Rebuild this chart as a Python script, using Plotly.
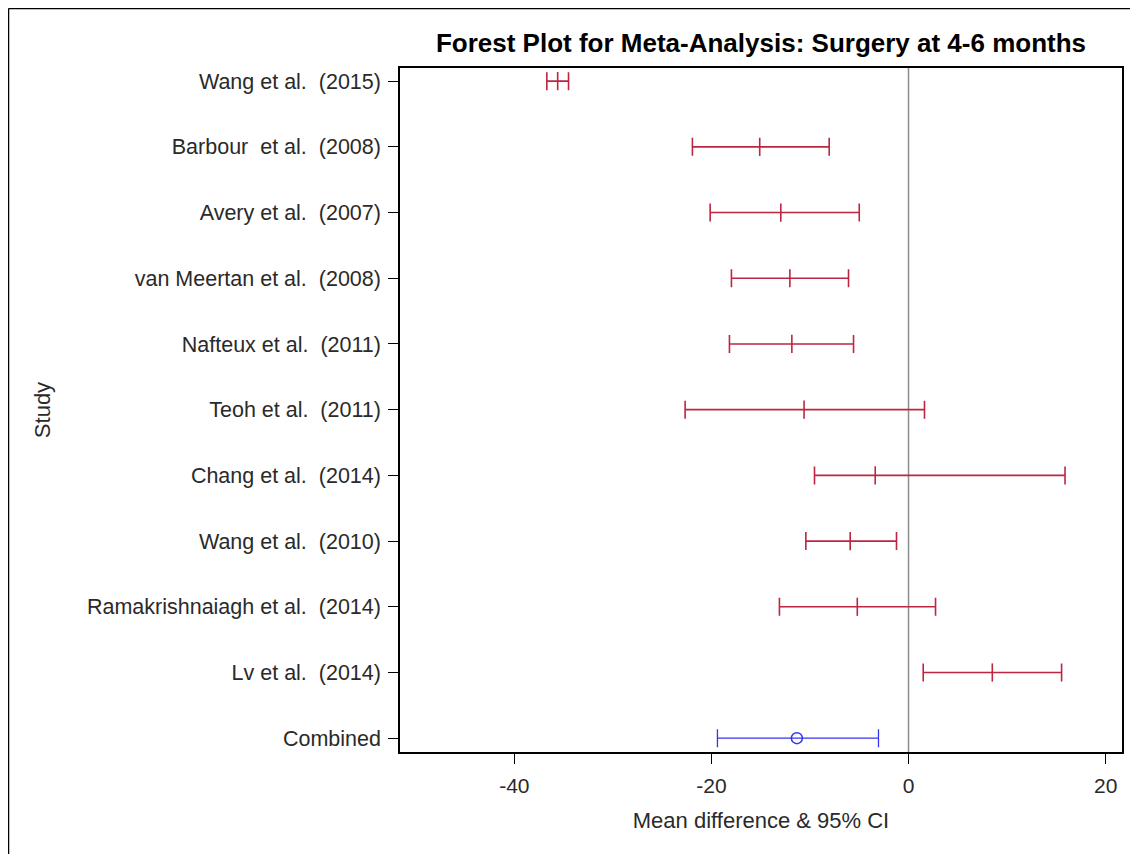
import plotly.graph_objects as go

studies = [
    "Wang et al.\u00a0\u00a0(2015)",
    "Barbour\u00a0\u00a0et al.\u00a0\u00a0(2008)",
    "Avery et al.\u00a0\u00a0(2007)",
    "van Meertan et al.\u00a0\u00a0(2008)",
    "Nafteux et al.\u00a0\u00a0(2011)",
    "Teoh et al.\u00a0\u00a0(2011)",
    "Chang et al.\u00a0\u00a0(2014)",
    "Wang et al.\u00a0\u00a0(2010)",
    "Ramakrishnaiagh et al.\u00a0\u00a0(2014)",
    "Lv et al.\u00a0\u00a0(2014)",
]
means = [-35.6, -15.1, -12.96, -12.04, -11.84, -10.6, -3.38, -5.92, -5.2, 8.5]
lower = [-36.7, -21.93, -20.13, -17.97, -18.17, -22.67, -9.54, -10.42, -13.1, 1.49]
upper = [-34.5, -8.05, -5.0, -6.09, -5.58, 1.62, 15.88, -1.22, 2.74, 15.53]

combined_label = ["Combined"]
combined_mean = [-11.33]
combined_lower = [-19.39]
combined_upper = [-3.05]

x_ticks = [-40, -20, 0, 20]
x_tick_labels = ["-40", "-20", "0", "20"]

RED = "#BE2541"
BLUE = "#3434F0"
FONT = "Liberation Sans, Arial, sans-serif"
TXT = "#2a2a2a"

fig = go.Figure()

fig.add_trace(go.Scatter(
    x=means, y=studies, mode="markers",
    marker=dict(symbol="line-ns", size=13, line=dict(width=1.6, color=RED), color=RED),
    error_x=dict(type="data", symmetric=False,
                 array=[u - m for u, m in zip(upper, means)],
                 arrayminus=[m - l for m, l in zip(means, lower)],
                 color=RED, thickness=1.6, width=9),
    showlegend=False,
))

fig.add_trace(go.Scatter(
    x=combined_mean, y=combined_label, mode="markers",
    marker=dict(symbol="circle-open", size=11, line=dict(width=1.5, color=BLUE), color=BLUE),
    error_x=dict(type="data", symmetric=False,
                 array=[u - m for u, m in zip(combined_upper, combined_mean)],
                 arrayminus=[m - l for m, l in zip(combined_mean, combined_lower)],
                 color=BLUE, thickness=1.3, width=9),
    showlegend=False,
))

fig.add_shape(type="line", x0=0, x1=0, xref="x", y0=0, y1=1, yref="paper",
              line=dict(color="#8c8c8c", width=1.5), layer="below")

# page has an 8px body margin; figure sized to fit the window
W, H = 1130, 846
L, R, T, B = 392, 16, 60, 102
pw, ph = W - L - R, H - T - B
bx = (0.5 - L) / pw
by = 1 + (T - 0.5) / ph
fig.add_shape(type="line", xref="paper", yref="paper", x0=bx, x1=bx, y0=by, y1=-B / ph,
              line=dict(color="black", width=1.5))
fig.add_shape(type="line", xref="paper", yref="paper", x0=bx, x1=1 + R / pw, y0=by, y1=by,
              line=dict(color="black", width=1.5))

fig.update_layout(
    width=W, height=H,
    margin=dict(l=L, r=R, t=T, b=B),
    paper_bgcolor="white", plot_bgcolor="white",
    font=dict(family=FONT, color=TXT, size=21),
    title=dict(text="<b>Forest Plot for Meta-Analysis: Surgery at 4-6 months</b>",
               x=0.5, xref="paper", xanchor="center", y=1 - 35 / H, yanchor="middle",
               font=dict(family=FONT, size=26, color="black")),
)
fig.update_xaxes(
    range=[-51.6, 21.66], tickvals=x_ticks, ticktext=x_tick_labels, ticks="outside",
    ticklen=10, tickwidth=1.3, ticklabelstandoff=4,
    tickcolor="black", showgrid=False, zeroline=False, showline=True, linecolor="black",
    linewidth=1.5, mirror=True, tickfont=dict(size=21),
    title=dict(text="Mean difference & 95% CI", font=dict(size=22), standoff=17),
)
fig.update_yaxes(
    categoryorder="array", categoryarray=studies + combined_label,
    range=[10.21, -0.2], ticks="outside", ticklen=10, tickwidth=1.3, tickcolor="black",
    ticklabelstandoff=3,
    showgrid=False, zeroline=False, showline=True, linecolor="black", linewidth=1.5,
    mirror=True, tickfont=dict(size=21.5),
    title=dict(text="Study", font=dict(size=22), standoff=30),
)

fig.write_html("out.html")
